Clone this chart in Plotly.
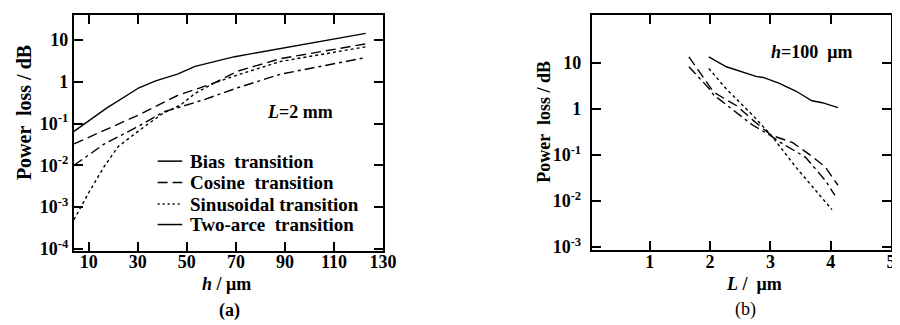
import plotly.graph_objects as go

# ---------------- data: panel (a), L = 2 mm ----------------
h_bias = [4, 17.3, 30.5, 37.3, 46.2, 53.4, 69.5, 85.5, 122.9]
loss_bias = [0.065, 0.235, 0.72, 1.05, 1.53, 2.35, 4.0, 5.85, 14.5]

h_cos = [4, 17.3, 30.5, 46.2, 52.2, 61.4, 70.7, 88.3, 122.9]
loss_cos = [0.0325, 0.072, 0.162, 0.47, 0.62, 0.95, 1.8, 3.6, 8.1]

h_sin = [4, 10, 16.4, 22, 30.1, 40.5, 47.4, 53.4, 61.4, 70.7, 88.3, 122.9]
loss_sin = [5e-4, 2.2e-3, 9.5e-3, 0.028, 0.065, 0.18, 0.277, 0.53, 0.95, 1.46, 3.08, 6.9]

h_arc = [4, 16.4, 30.1, 40.5, 47.4, 57.4, 70.7, 88.3, 122.9]
loss_arc = [0.01, 0.0325, 0.085, 0.19, 0.25, 0.38, 0.72, 1.53, 3.8]

# ---------------- data: panel (b), h = 100 um ----------------
L_bias = [1.98, 2.27, 2.76, 2.88, 3.14, 3.42, 3.69, 3.86, 4.12]
lossb_bias = [13.4, 8.2, 5.06, 4.8, 3.6, 2.44, 1.5, 1.36, 1.06]

L_cos = [1.65, 2.0, 2.06, 2.44, 2.71, 3.01, 3.37, 3.69, 3.91, 4.12]
lossb_cos = [13.4, 3.1, 2.3, 1.17, 0.57, 0.27, 0.185, 0.093, 0.055, 0.022]

L_sin = [1.98, 2.27, 2.71, 3.01, 3.42, 3.69, 4.02]
lossb_sin = [7.5, 2.7, 0.72, 0.27, 0.055, 0.021, 0.0065]

L_arc = [1.65, 1.98, 2.06, 2.71, 3.01, 3.14, 3.58, 3.91, 4.07]
lossb_arc = [8.2, 2.8, 2.0, 0.44, 0.26, 0.195, 0.09, 0.028, 0.0133]

names = ["Bias  transition", "Cosine  transition", "Sinusoidal transition", "Two-arce  transition"]
dashes = ["solid", "10px,5px", "3px,3px", "10px,4px,3px,4px"]
legend_dashes = ["solid", "10px,5px", "2px,3px", "solid"]

xa_ticks = [10, 30, 50, 70, 90, 110, 130]
ya_ticks = [10, 1, 0.1, 0.01, 0.001, 0.0001]
ya_text = ["10", "1", "10<sup>-1</sup>", "10<sup>-2</sup>", "10<sup>-3</sup>", "10<sup>-4</sup>"]
xb_ticks = [1, 2, 3, 4, 5]
yb_ticks = [10, 1, 0.1, 0.01, 0.001]
yb_text = ["10", "1", "10<sup>-1</sup>", "10<sup>-2</sup>", "10<sup>-3</sup>"]

W, H = 900, 325
def px(x):
    return x / W
def py(y):
    return 1 - y / H

FONT = "Liberation Serif"
fig = go.Figure()

a_sets = [(h_bias, loss_bias), (h_cos, loss_cos), (h_sin, loss_sin), (h_arc, loss_arc)]
b_sets = [(L_bias, lossb_bias), (L_cos, lossb_cos), (L_sin, lossb_sin), (L_arc, lossb_arc)]
for i, (xs, ys) in enumerate(a_sets):
    fig.add_trace(go.Scatter(x=xs, y=ys, mode="lines", name=names[i], showlegend=False,
                             line=dict(color="black", width=1.4, dash=dashes[i]),
                             xaxis="x", yaxis="y"))
for i, (xs, ys) in enumerate(b_sets):
    fig.add_trace(go.Scatter(x=xs, y=ys, mode="lines", name=names[i], showlegend=False,
                             line=dict(color="black", width=1.4, dash=dashes[i]),
                             xaxis="x2", yaxis="y2"))

axis_common = dict(showline=True, linecolor="black", linewidth=2, mirror="allticks",
                   ticks="inside", ticklen=9, tickwidth=1.5, tickcolor="black",
                   showgrid=False, zeroline=False,
                   tickfont=dict(family=FONT, size=18, color="black", weight="bold"))

fig.update_layout(
    width=W, height=H, margin=dict(l=0, r=0, t=0, b=0),
    paper_bgcolor="white", plot_bgcolor="white",
    font=dict(family=FONT, color="black"),
    xaxis=dict(domain=[px(67), px(381)], range=[4, 130], tickvals=xa_ticks,
               anchor="y", ticklabelstandoff=-6, **axis_common),
    yaxis=dict(domain=[py(249), py(7)], type="log", range=[-4.05, 1.605],
               tickvals=ya_ticks, ticktext=ya_text, anchor="x", **axis_common),
    xaxis2=dict(domain=[px(593), px(897)], range=[0.04, 5], tickvals=xb_ticks,
                anchor="y2", ticklabelstandoff=-5, **axis_common),
    yaxis2=dict(domain=[py(248), py(7)], type="log", range=[-3.06, 2.04],
                tickvals=yb_ticks, ticktext=yb_text, anchor="x2", ticklabelstandoff=5,
                **axis_common),
    showlegend=False,
)

# legend box of panel (a), drawn as a key
leg_y = [157, 179, 201, 222]
for i, yy in enumerate(leg_y):
    fig.add_shape(type="line", xref="paper", yref="paper",
                  x0=px(152), x1=px(177), y0=py(yy), y1=py(yy),
                  line=dict(color="black", width=1.5, dash=legend_dashes[i]))
    fig.add_annotation(x=px(183), y=py(yy), xref="paper", yref="paper", text=names[i],
                       showarrow=False, xanchor="left", yanchor="middle",
                       font=dict(family=FONT, size=19, color="black", weight="bold"))

ann = [
    dict(x=px(297), y=py(107), text="<i>L</i>=2 mm", size=18, bold=True),
    dict(x=px(816), y=py(45), text="<i>h</i>=100  μm", size=18, bold=True),
    dict(x=px(222), y=py(283), text="<i>h</i> / μm", size=18, bold=True),
    dict(x=px(758), y=py(283), text="<i>L</i> /  μm", size=18, bold=True),
    dict(x=px(225), y=py(310), text="(a)", size=18, bold=True),
    dict(x=px(749), y=py(309), text="(b)", size=18, bold=False),
]
for a in ann:
    fig.add_annotation(x=a["x"], y=a["y"], xref="paper", yref="paper", text=a["text"],
                       showarrow=False, xanchor="center", yanchor="middle",
                       font=dict(family=FONT, size=a["size"], color="black",
                                 weight="bold" if a["bold"] else "normal"))

fig.add_annotation(x=px(17), y=py(107), xref="paper", yref="paper", text="Power  loss / dB",
                   textangle=-90, showarrow=False, xanchor="center", yanchor="middle",
                   font=dict(family=FONT, size=20, color="black", weight="bold"))
fig.add_annotation(x=px(545), y=py(117), xref="paper", yref="paper", text="Power  loss / dB",
                   textangle=-90, showarrow=False, xanchor="center", yanchor="middle",
                   font=dict(family=FONT, size=18, color="black", weight="bold"))

fig.write_html("out.html")
